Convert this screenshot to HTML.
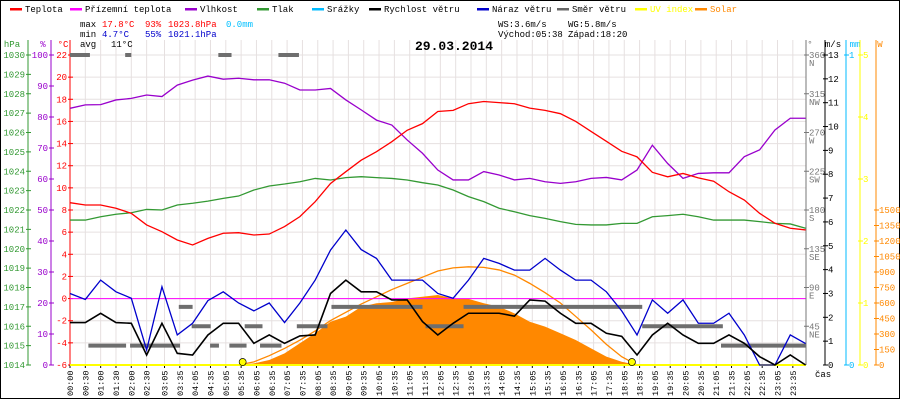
<!DOCTYPE html>
<html><head><meta charset="utf-8"><style>
html,body{margin:0;padding:0;background:#fff;}
svg{display:block;font-family:"Liberation Mono","DejaVu Sans Mono",monospace;}
</style></head><body>
<svg id="chart" width="900" height="400" viewBox="0 0 900 400" xmlns="http://www.w3.org/2000/svg">
<rect x="0.5" y="0.5" width="899" height="398" fill="#fff" stroke="#000"/>
<g id="grid"></g>
<g id="legend" font-size="9"></g>
<g font-size="9">
<text x="80" y="27" fill="#000">max</text><text x="102" y="27" fill="#f00">17.8°C</text><text x="145" y="27" fill="#f00">93%</text><text x="168" y="27" fill="#f00">1023.8hPa</text><text x="226" y="27" fill="#00bfff">0.0mm</text>
<text x="80" y="37" fill="#000">min</text><text x="102" y="37" fill="#00c">4.7°C</text><text x="145" y="37" fill="#00c">55%</text><text x="168" y="37" fill="#00c">1021.1hPa</text>
<text x="80" y="47" fill="#000">avg</text><text x="111" y="47" fill="#000">11°C</text>
<text x="498" y="27" fill="#000">WS:3.6m/s</text><text x="568" y="27" fill="#000">WG:5.8m/s</text>
<text x="498" y="37" fill="#000">Východ:05:38</text><text x="568" y="37" fill="#000">Západ:18:20</text>
</g>
<text x="415" y="50" font-size="13" font-weight="bold" fill="#000">29.03.2014</text>
<g id="axes" font-size="9"></g>
<g id="series"></g>
</svg>
<script>
// ---- data (hours sampled every 0.5 h from 0 to 24) ----
const hours = [0,0.5,1,1.5,2,2.5,3,3.5,4,4.5,5,5.5,6,6.5,7,7.5,8,8.5,9,9.5,10,10.5,11,11.5,12,12.5,13,13.5,14,14.5,15,15.5,16,16.5,17,17.5,18,18.5,19,19.5,20,20.5,21,21.5,22,22.5,23,23.5,24];
const temperature = [8.66,8.45,8.45,8.16,7.7,6.65,6.04,5.29,4.84,5.44,5.9,5.95,5.74,5.83,6.5,7.4,8.75,10.4,11.46,12.5,13.27,14.17,15.2,15.8,16.9,17.0,17.6,17.8,17.7,17.6,17.2,17.0,16.7,16.0,15.1,14.2,13.3,12.8,11.4,11.0,11.3,10.9,10.6,9.65,8.9,7.7,6.8,6.35,6.2];
const apparentTemp = [0,0,0,0,0,0,0,0,0,0,0,0,0,0,0,0,0,0,0,0,0,0,0,0,0,0,0,0,0,0,0,0,0,0,0,0,0,0,0,0,0,0,0,0,0,0,0,0,0];
const humidity = [82.8,83.9,84.0,85.5,86,87.1,86.6,90.3,91.9,93.2,92.2,92.5,92,92,90.9,88.7,88.7,89.2,85.5,82.3,79,77.4,72.6,68.3,62.9,59.7,59.7,62.4,61.3,59.7,60.2,59.1,58.6,59.1,60.2,60.5,59.7,62.9,70.9,65,60.2,61.8,62,62,67.2,69.4,75.8,79.6,79.6];
const pressure = [1021.48,1021.48,1021.65,1021.78,1021.86,1022.03,1022.0,1022.26,1022.35,1022.46,1022.6,1022.72,1023.03,1023.24,1023.34,1023.46,1023.63,1023.55,1023.67,1023.72,1023.67,1023.63,1023.55,1023.41,1023.29,1023.03,1022.69,1022.43,1022.09,1021.91,1021.71,1021.57,1021.4,1021.26,1021.23,1021.23,1021.31,1021.31,1021.65,1021.71,1021.78,1021.65,1021.48,1021.48,1021.48,1021.4,1021.31,1021.28,1021.06];
const windSpeed = [1.78,1.78,2.17,1.78,1.75,0.42,1.75,0.49,0.42,1.26,1.75,1.75,0.91,1.26,0.91,1.22,1.26,3.0,3.56,3.07,3.07,2.73,2.73,1.82,1.26,1.75,2.17,2.17,2.17,2.05,2.73,2.68,2.17,1.75,1.75,1.33,1.2,0.42,1.26,1.75,1.26,0.91,0.91,1.26,0.91,0.35,0,0.42,0];
const windGust = [3.0,2.75,3.56,3.07,2.8,0.63,3.28,1.26,1.75,2.7,3.07,2.6,2.27,2.6,1.78,2.6,3.56,4.82,5.66,4.84,4.47,3.56,3.56,3.56,3.0,2.8,3.56,4.47,4.26,3.98,3.98,4.47,3.98,3.56,3.56,3.07,2.27,1.26,2.73,2.17,2.73,1.75,1.75,2.17,1.26,0,0,1.26,0.9];
const solar = [0,0,0,0,0,0,0,0,0,0,0,0,16,48,113,210,307,419,468,564,597,610,645,661,677,645,640,597,564,500,419,371,307,242,161,81,32,0,0,0,0,0,0,0,0,0,0,0,0];
const solarTheory = [0,0,0,0,0,0,0,0,0,0,0,0,30,90,160,240,330,430,510,590,660,730,790,850,910,940,950,945,920,870,790,700,600,470,340,200,80,0,0,0,0,0,0,0,0,0,0,0,0];
const dirStart = [0,1.8,4.84,6.8,0.6,1.96,4.57,5.2,6.2,21.24,3.97,5.7,7.4,11.6,18.67,3.55,8.53,12.84];
const dirEnd   = [0.65,2.0,5.27,7.47,1.83,3.59,4.86,5.76,6.9,24,4.59,6.28,8.4,12.84,21.3,4.0,11.5,18.67];
const dirDeg   = [360,360,360,360,22.5,22.5,22.5,22.5,22.5,22.5,45,45,45,45,45,67.5,67.5,67.5];
const sunEvents = [5.633,18.333];
const timeLabels = ["00:00","00:30","01:00","01:30","02:00","02:30","03:05","03:35","04:05","04:35","05:05","05:35","06:05","06:35","07:05","07:35","08:05","08:35","09:05","09:35","10:05","10:35","11:05","11:35","12:05","12:35","13:05","13:35","14:05","14:35","15:05","15:35","16:05","16:35","17:05","17:35","18:05","18:35","19:05","19:35","20:05","20:35","21:05","21:35","22:05","22:35","23:05","23:35"];
const hpaTicks = [1014,1015,1016,1017,1018,1019,1020,1021,1022,1023,1024,1025,1026,1027,1028,1029,1030];
const pctTicks = [0,10,20,30,40,50,60,70,80,90,100];
const tempTicks = [-6,-4,-2,0,2,4,6,8,10,12,14,16,18,20,22];
const dirTicks = [45,90,135,180,225,270,315,360];
const dirNames = ["NE","E","SE","S","SW","W","NW","N"];
const msTicks = [0,1,2,3,4,5,6,7,8,9,10,11,12,13];
const uvTicks = [0,1,2,3,4,5];
const wTicks = [0,150,300,450,600,750,900,1050,1200,1350,1500];
const legendNames = ["Teplota","Přízemní teplota","Vlhkost","Tlak","Srážky","Rychlost větru","Náraz větru","Směr větru","UV index","Solar"];
const legendColors = ["#f00","#f0f","#90c","#393","#0bf","#000","#00c","#666","#ff0","#f80"];

// ---- scales ----
const X0=70, X1=805.6, YT=55, YB=365;
const x = h => X0 + h*(X1-X0)/24;
const yT = v => YB - (v+6)*(YB-YT)/28;
const yP = v => YB - (v-1014)*(YB-YT)/16;
const yH = v => YB - v*(YB-YT)/100;
const yW = v => YB - v*(YB-YT)/13;
const yD = v => YB - v*(YB-YT)/360;
const yUV = v => YB - v*(YB-YT)/5;
const ySol = v => YB - v*(YB-YT)/3000;
const tToH = s => { const p=s.split(":"); return +p[0] + (+p[1])/60; };
const NS="http://www.w3.org/2000/svg";
function mk(tag, attrs, parent){ const e=document.createElementNS(NS,tag); for(const k in attrs) e.setAttribute(k,attrs[k]); parent.appendChild(e); return e; }
const grid=document.getElementById('grid'), axes=document.getElementById('axes'), series=document.getElementById('series'), legend=document.getElementById('legend');

// legend
let lx=10;
const legendWidths=[60,115,72,55,57,108,80,78,60,50];
legendNames.forEach((n,i)=>{
  const g=mk('g',{},legend);
  
  
  mk('rect',{x:lx,y:8,width:12,height:2.5,fill:legendColors[i]},g);
  const t=mk('text',{x:lx+15,y:12,fill:(i>=8?legendColors[i]:'#000')},g); t.textContent=n;
  lx+=legendWidths[i];
});

// grid
tempTicks.forEach(v=>{ const l=mk('line',{x1:X0,x2:806,y1:yT(v),y2:yT(v),stroke:'#e6e0e0'},grid);   });
timeLabels.forEach(s=>{ const xx=x(tToH(s)); const l=mk('line',{x1:xx,x2:xx,y1:40,y2:YB,stroke:'#e6e0e0'},grid);   });

// left axes
function vAxis(ax,color,name,ticks,yf,labelFn,side,title,titleX){
  const g=mk('g',{},axes);
  
  
  mk('line',{x1:ax,x2:ax,y1:40,y2:YB,stroke:color,'stroke-width':1},g);
  ticks.forEach((v,i)=>{
    const yy=yf(v);
    mk('line',{x1:ax-2,x2:ax+3,y1:yy,y2:yy,stroke:color},g);
    const t=mk('text',side<0?{x:ax-3,y:yy+3,'text-anchor':'end',fill:color}:{x:ax+3,y:yy+3,fill:color},g);
    t.textContent=labelFn(v,i);
  });
  const tt=mk('text',{x:titleX,y:47,fill:color,'text-anchor':'middle'},g); tt.textContent=title;
}
vAxis(28,'#393','hpa-axis',hpaTicks,yP,v=>v,-1,'hPa',12);
vAxis(51,'#90c','humidity-axis',pctTicks,yH,v=>v,-1,'%',43);
vAxis(70,'#f00','temperature-axis',tempTicks,yT,v=>v,-1,'°C',63);
// right axes
vAxis(806,'#777','direction-axis',dirTicks,yD,v=>v,1,'°',810);
dirTicks.forEach((v,i)=>{ const t=mk('text',{x:809,y:yD(v)+11,fill:'#777','font-size':9},axes); t.textContent=dirNames[i]; });
vAxis(825,'#000','wind-axis',msTicks,yW,v=>v,1,'m/s',833);
vAxis(846,'#0bf','rain-axis',[0,1],v=>YB-v*(YB-YT),v=>v,1,'mm',855);
vAxis(860,'#ff0','uv-axis',uvTicks,yUV,v=>v,1,'',864);
vAxis(876,'#f80','solar-axis',wTicks,ySol,v=>v,1,'W',880);
const cas=mk('text',{x:815,y:377,fill:'#000','font-size':9},axes); cas.textContent='čas';

// x labels
timeLabels.forEach(s=>{
  const xx=x(tToH(s));
  mk('line',{x1:xx,x2:xx,y1:YB,y2:YB+3,stroke:'#000'},axes);
  const t=mk('text',{x:0,y:0,transform:`translate(${xx+3},396) rotate(-90)`,fill:'#000','font-size':8.5},axes);
  
  
  t.textContent=s;
});

// solar fill
let d=`M${x(hours[0])},${YB}`;
hours.forEach((h,i)=>{ d+=` L${x(h)},${ySol(solar[i])}`; });
d+=` L${x(hours[hours.length-1])},${YB} Z`;
const sf=mk('path',{d:d,fill:'#f80',stroke:'none'},series);



function line(vals,yf,color,name,w){
  const p=mk('polyline',{points:hours.map((h,i)=>x(h)+','+yf(vals[i])).join(' '),fill:'none',stroke:color,'stroke-width':w||1.3},series);
  
  
}
line(solarTheory,ySol,'#f80','solar-theory-line');
line(apparentTemp,yT,'#f0f','apparent-temp-line',1);
// yellow UV baseline
const uvl=mk('line',{x1:X0,x2:806,y1:YB,y2:YB,stroke:'#ff0','stroke-width':2},series);


// direction segments
dirDeg.forEach((v,i)=>{
  const r=mk('rect',{x:x(dirStart[i]),y:yD(v)-2,width:x(dirEnd[i])-x(dirStart[i]),height:4,fill:'#6e6e6e'},series);
  
  
});
line(pressure,yP,'#393','pressure-line');
line(humidity,yH,'#90c','humidity-line');
line(temperature,yT,'#f00','temperature-line');
line(windGust,yW,'#00c','wind-gust-line');
line(windSpeed,yW,'#000','wind-speed-line',1.6);
sunEvents.forEach(h=>{
  const c=mk('circle',{cx:x(h),cy:YB-3,r:3.5,fill:'#ff0',stroke:'#000','stroke-width':0.7},series);
  
  
});
</script>
</body></html>
